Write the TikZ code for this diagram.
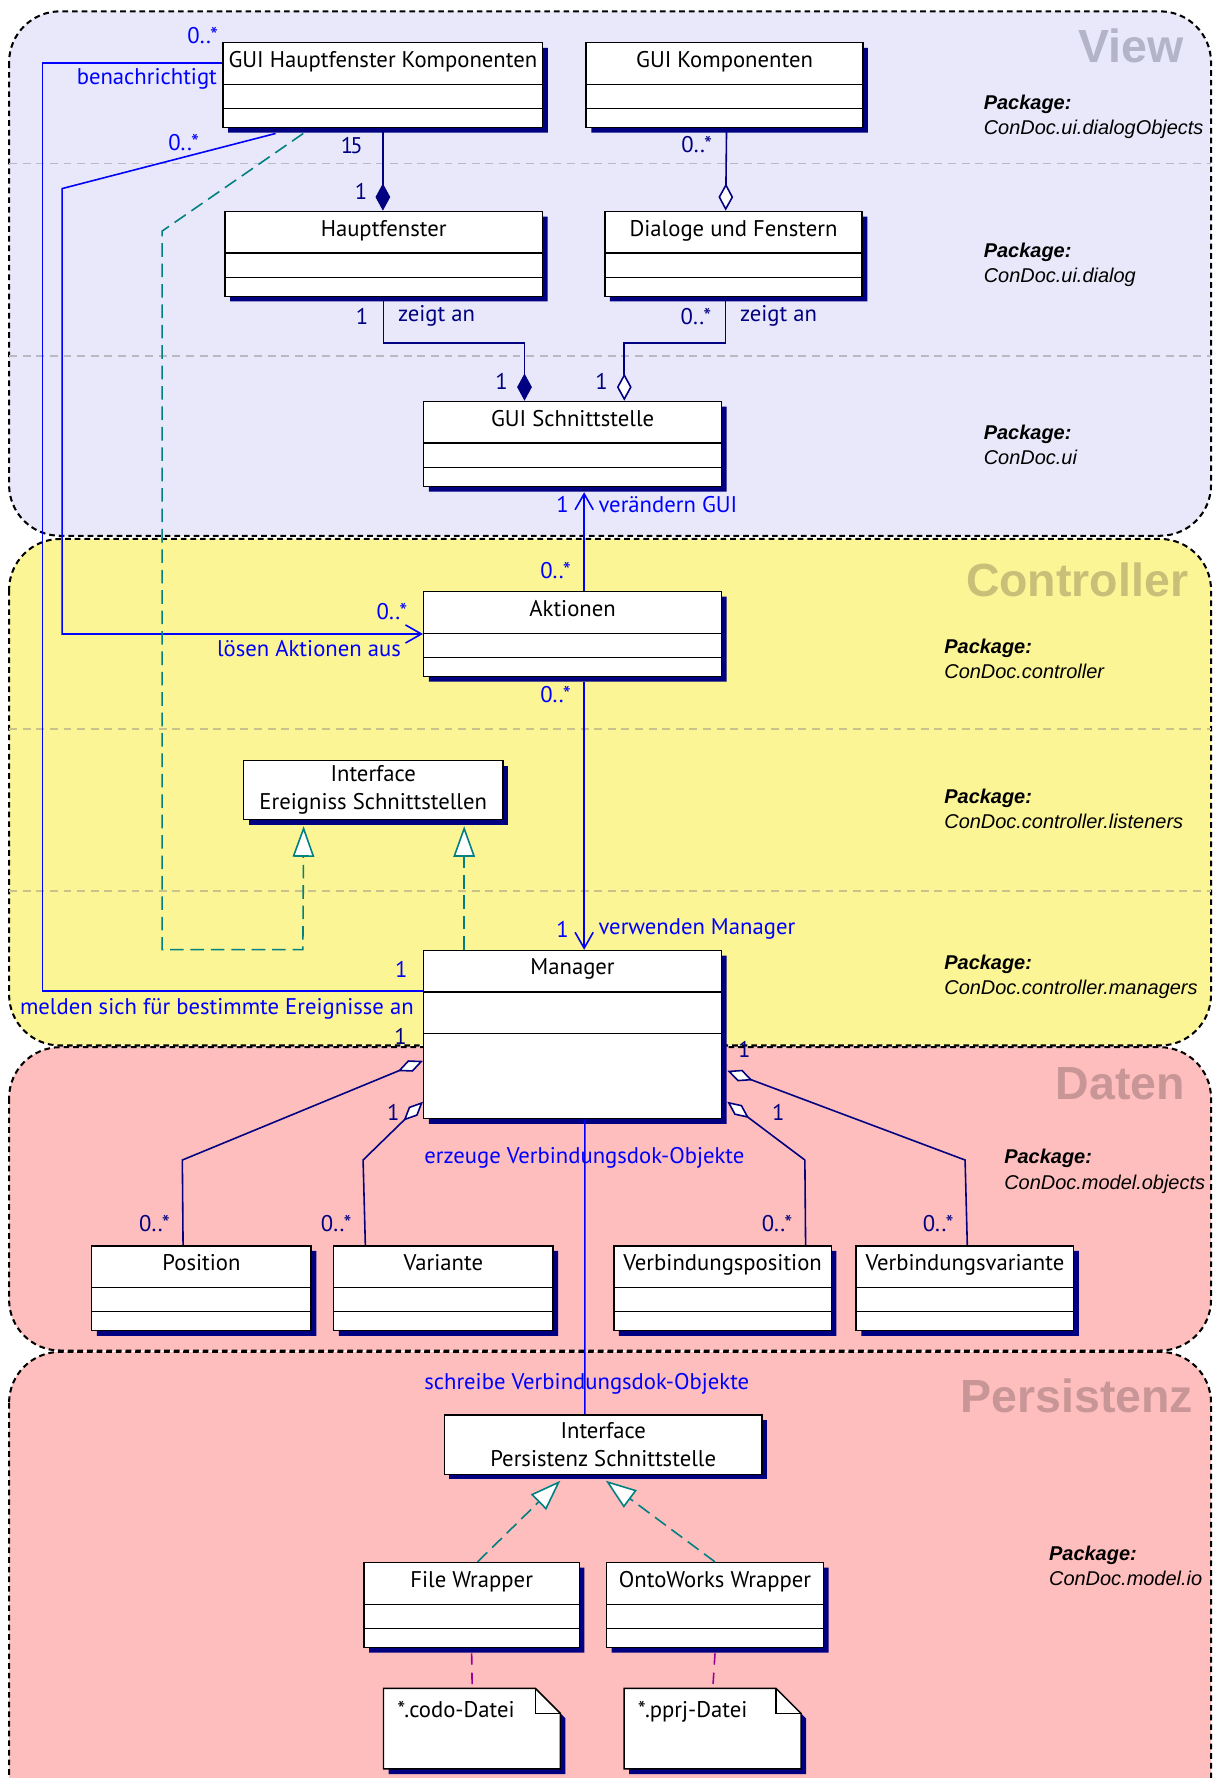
\documentclass[tikz,border=0pt]{standalone}
\usepackage{fontspec}
\setmainfont{PT Sans}
\newfontfamily\arialfont{Liberation Sans}
\usetikzlibrary{shapes.multipart, shadows, arrows.meta, positioning}

\definecolor{viewbg}{RGB}{232,232,250}
\definecolor{ctrlbg}{RGB}{251,245,150}
\definecolor{datenbg}{RGB}{255,190,190}
\definecolor{viewgrau}{RGB}{180,180,200}
\definecolor{ctrlgrau}{RGB}{200,192,120}
\definecolor{datengrau}{RGB}{200,150,150}
\definecolor{viewlinie}{RGB}{185,185,195}
\definecolor{ctrllinie}{RGB}{200,195,140}
\definecolor{navy}{RGB}{0,0,128}
\definecolor{hellblau}{RGB}{0,0,255}
\definecolor{petrol}{RGB}{0,128,128}
\definecolor{lila}{RGB}{153,0,153}

\newcommand{\boxfont}{\fontsize{20}{25}\selectfont}
% class with name, attribute and operation compartment
\newcommand{\kls}[1]{\rule[-14pt]{0pt}{35.5pt}#1\nodepart{second}\rule{0pt}{20pt}\nodepart{third}\rule{0pt}{15.5pt}}
% note with folded corner: name, x, y, text
\newcommand{\notiz}[4]{%
  \fill[navy] ({#2+4.5},{#3+4.5}) -- ++(134,0) -- ++(22,22) -- ++(0,49) -- ++(-156,0) -- cycle;
  \draw[line width=1.3pt, fill=white] (#2,#3) -- ++(134,0) -- ++(22,22) -- ++(0,49) -- ++(-156,0) -- cycle;
  \draw[line width=1.3pt] ({#2+134},#3) |- ++(22,22);
  \node[notiz] (#1) at (#2,#3) {#4};
}

\tikzset{
    x=1pt, y=-1pt, % coordinates in points, y runs downwards
    schicht/.style={line width=1.8pt, dash pattern=on 5pt off 3.5pt, rounded corners=45pt}, % one layer of the architecture
    trenner/.style={line width=1.4pt, dash pattern=on 7pt off 5pt}, % border between two packages
    titel/.style={font=\arialfont\bfseries\fontsize{41}{41}\selectfont, anchor=north east, inner sep=0pt},
    paket/.style={font=\arialfont\itshape\fontsize{17.6}{22.3}\selectfont, anchor=north west, align=left, inner sep=0pt},
    klasse/.style={rectangle split, rectangle split parts=3, draw, fill=white, line width=1.3pt,
        inner xsep=2pt, inner ysep=0pt, anchor=north west, font=\boxfont,
        drop shadow={shadow xshift=4.5pt, shadow yshift=-4.5pt, fill=navy, opacity=1}},
    iface/.style={draw, fill=white, line width=1.3pt, anchor=north west, align=center, font=\boxfont,
        drop shadow={shadow xshift=4.5pt, shadow yshift=-4.5pt, fill=navy, opacity=1}},
    notiz/.style={anchor=north west, inner xsep=12pt, inner ysep=0pt, text width=132pt,
        text height=25.7pt, text depth=45.3pt, align=left, font=\boxfont},
    mult/.style={font=\boxfont, text=navy, inner sep=1pt}, % multiplicities inside a layer
    hinweis/.style={font=\boxfont, text=hellblau, inner sep=1pt}, % labels of links across layers
    assoz/.style={draw=navy, line width=1.4pt},
    ruf/.style={draw=hellblau, line width=1.4pt},
    realis/.style={draw=petrol, line width=1.4pt, dash pattern=on 12pt off 6pt,
        arrows={-Triangle[fill=white, length=27pt, width=19pt]}},
    abh/.style={draw=lila, line width=1.4pt, dash pattern=on 10pt off 7pt},
    comp/.style={arrows={-Diamond[fill=navy, length=24pt, width=13pt]}},
    agg/.style={arrows={-Diamond[fill=white, length=24pt, width=13pt]}},
    aggstart/.style={arrows={Diamond[fill=white, length=24pt, width=11pt]-}},
    nav/.style={arrows={-Straight Barb[length=14pt, width=16pt]}},
}

\begin{document}
\begin{tikzpicture}
\clip (0,0) rectangle (1076,1568);
\fill[white] (0,0) rectangle (1076,1568);

% layers
\draw[schicht, fill=viewbg] (8,10) rectangle (1068,472.5);
\draw[schicht, fill=ctrlbg] (8,475.3) rectangle (1068,922);
\draw[schicht, fill=datenbg] (8,923.5) rectangle (1068,1191);
\draw[schicht, fill=datenbg] (8,1192.2) rectangle (1068,1640);
\draw[trenner, viewlinie] (8,144.3) -- (1068,144.3) (8,314) -- (1068,314);
\draw[trenner, ctrllinie] (8,642.9) -- (1068,642.9) (8,785.6) -- (1068,785.6);

\node[titel, text=viewgrau] (tview) at (1044,25) {View};
\node[titel, text=ctrlgrau] (tctrl) at (1048,495.7) {Controller};
\node[titel, text=datengrau] (tdaten) at (1045.3,940.8) {Daten};
\node[titel, text=datengrau] (tpers) at (1052.4,1215.7) {Persistenz};

\node[paket] (p1) at (867.4,83.2) {\textbf{Package:}\\ConDoc.ui.dialogObjects};
\node[paket] (p2) at (867.4,213.9) {\textbf{Package:}\\ConDoc.ui.dialog};
\node[paket] (p3) at (867.4,374.6) {\textbf{Package:}\\ConDoc.ui};
\node[paket] (p4) at (832.6,563.3) {\textbf{Package:}\\ConDoc.controller};
\node[paket] (p5) at (832.6,695.6) {\textbf{Package:}\\ConDoc.controller.listeners};
\node[paket] (p6) at (832.6,842.1) {\textbf{Package:}\\ConDoc.controller.managers};
\node[paket] (p7) at (885.5,1013.4) {\textbf{Package:}\\ConDoc.model.objects};
\node[paket] (p8) at (925,1363) {\textbf{Package:}\\ConDoc.model.io};

% classes
\node[klasse, minimum width=282pt] (hk) at (196,37) {\kls{GUI Hauptfenster Komponenten}};
\node[klasse, minimum width=244pt, right=37pt of hk.north east, anchor=north west] (gk) {\kls{GUI Komponenten}};
\node[klasse, minimum width=280pt] (hf) at (197.7,185.8) {\kls{Hauptfenster}};
\node[klasse, minimum width=227pt] (df) at (532.7,185.8) {\kls{Dialoge und Fenstern}};
\node[klasse, minimum width=262.6pt] (gs) at (373,353.4) {\kls{GUI Schnittstelle}};
\node[klasse, minimum width=262.6pt] (ak) at (373,521) {\kls{Aktionen}};
\node[iface, minimum width=228.8pt, minimum height=52pt] (es) at (214.1,670) {Interface\\Ereigniss Schnittstellen};
\node[klasse, minimum width=262.6pt] (mg) at (373,837.6)
    {\rule[-14.7pt]{0pt}{35.2pt}Manager\nodepart{second}\rule{0pt}{35.6pt}\nodepart{third}\rule{0pt}{73.6pt}};
\node[klasse, minimum width=193.6pt] (pos) at (80.2,1098) {\kls{Position}};
\node[klasse, minimum width=193.5pt, right=18.5pt of pos.north east, anchor=north west] (var) {\kls{Variante}};
\node[klasse, minimum width=191.8pt] (vpos) at (540.7,1098) {\kls{Verbindungsposition}};
\node[klasse, minimum width=191.8pt, right=20.6pt of vpos.north east, anchor=north west] (vvar) {\kls{Verbindungsvariante}};
\node[iface, minimum width=280.2pt, minimum height=52.4pt] (ps) at (391.2,1247.1) {Interface\\Persistenz Schnittstelle};
\node[klasse, minimum width=190pt] (fw) at (320.3,1377.4) {\kls{File Wrapper}};
\node[klasse, minimum width=191.4pt, right=22.6pt of fw.north east, anchor=north west] (ow) {\kls{OntoWorks Wrapper}};
\notiz{codo}{338.2}{1489}{*.codo-Datei}
\notiz{pprj}{550.4}{1489}{*.pprj-Datei}

% view
\draw[assoz, comp] (hk.south) -- (hk.south |- hf.north)
    node[mult, pos=0.21, left=16pt] {1\kern-2.5pt5} node[mult, pos=0.77, left=12pt] {1};
\draw[assoz, agg] ([xshift=1.8pt]gk.south) -- ([xshift=-6.9pt]df.north)
    node[mult, pos=0.2, left=11pt] {0..*};
\draw[assoz, comp] (hf.south) -- ++(0,40.3)
    node[mult, pos=0.42, left=12pt] {1} node[mult, pos=0.42, right=11pt] {zeigt an}
    -| ([xshift=-42.4pt]gs.north) node[mult, pos=0.83, left=13pt] {1};
\draw[assoz, agg] ([xshift=-6.9pt]df.south) -- ++(0,40.3)
    node[mult, pos=0.42, left=11pt] {0..*} node[mult, pos=0.42, right=11pt] {zeigt an}
    -| ([xshift=45.6pt]gs.north) node[mult, pos=0.83, left=13pt] {1};

% links between the layers
\draw[ruf, nav] ([xshift=10.2pt]ak.north) -- ([xshift=10.2pt, yshift=-4.5pt]gs.south)
    node[hinweis, pos=0.88, left=12pt] {1} node[hinweis, pos=0.88, right=11pt] {verändern GUI}
    node[hinweis, pos=0.21, left=10pt] {0..*};
\draw[ruf, nav] ([xshift=10.2pt, yshift=-4.5pt]ak.south) -- ([xshift=10.2pt]mg.north)
    node[hinweis, pos=0.044, left=10pt] {0..*} node[hinweis, pos=0.924, left=12pt] {1}
    node[hinweis, pos=0.924, right=11pt] {verwenden Manager};
\draw[ruf, nav] ([xshift=-94.6pt, yshift=-4.5pt]hk.south) -- node[hinweis, pos=0.35, anchor=south east] {0..*} (54.8,166.3)
    |- (ak.west) node[hinweis, pos=0.981, anchor=south east, yshift=11pt] {0..*}
    node[hinweis, pos=0.972, anchor=north east, yshift=-4pt] {lösen Aktionen aus};
\draw[ruf] ([yshift=-18.5pt]hk.north west)
    node[hinweis, anchor=south east, xshift=-2pt, yshift=15pt] {0..*}
    node[hinweis, anchor=north east, xshift=-3pt, yshift=-3.5pt] {benachrichtigt}
    -| (37.3,700) |- ([yshift=-36.5pt]mg.north west)
    node[hinweis, anchor=south east, xshift=-12pt, yshift=10pt] {1}
    node[hinweis, anchor=north east, xshift=-6.5pt, yshift=-5pt] {melden sich für bestimmte Ereignisse an};
\draw[realis] ([xshift=-70.2pt, yshift=-4.5pt]hk.south) -- (143,203.8) |- (267.1,837.5)
    -- ([xshift=-61.4pt, yshift=-5.3pt]es.south);
\draw[realis] ([xshift=-95.6pt]mg.north) -- ([xshift=80.2pt, yshift=-5.3pt]es.south);

% data objects
\draw[assoz, aggstart] ([yshift=-97.9pt]mg.north west)
    node[mult, anchor=south east, xshift=-12.5pt, yshift=13pt] {1}
    -- (160.8,1023) -- ([xshift=-16.2pt]pos.north)
    node[mult, anchor=south east, xshift=-10pt, yshift=10pt] {0..*};
\draw[assoz, aggstart] ([yshift=-134pt]mg.north west)
    node[mult, anchor=east, xshift=-19pt, yshift=-9pt] {1}
    -- (320.2,1023) -- ([xshift=-68.8pt]var.north)
    node[mult, anchor=south east, xshift=-10.5pt, yshift=10pt] {0..*};
\draw[assoz, aggstart] ([xshift=4.5pt, yshift=-134pt]mg.north east)
    node[mult, xshift=45pt, yshift=-9pt] {1}
    -- (709.8,1023) -- ([xshift=73.2pt]vpos.north)
    node[mult, anchor=south east, xshift=-10pt, yshift=10pt] {0..*};
\draw[assoz, aggstart] ([xshift=4.5pt, yshift=-106.7pt]mg.north east)
    node[mult, xshift=15pt, yshift=18.5pt] {1}
    -- (851.1,1023) -- ([xshift=2.1pt]vvar.north)
    node[mult, anchor=south east, xshift=-10.5pt, yshift=10pt] {0..*};
\node[hinweis, anchor=west] (erzeugen) at ([yshift=-34pt]mg.south west) {erzeuge Verbindungsdok-Objekte};

% persistence
\draw[ruf] ([xshift=10.8pt]mg.south) -- ([xshift=-16.2pt]ps.north);
\node[hinweis, anchor=west] (schreiben) at ([xshift=-18.2pt, yshift=27pt]ps.north west) {schreibe Verbindungsdok-Objekte};
\draw[realis] ([xshift=5.2pt]fw.north) -- ([xshift=-37.8pt, yshift=-5pt]ps.south);
\draw[realis] (ow.north) -- ([xshift=2.3pt, yshift=-5pt]ps.south);
\draw[abh] ([yshift=-4.5pt]fw.south) -- (codo.north);
\draw[abh] ([yshift=-4.5pt]ow.south) -- (pprj.north);
\end{tikzpicture}
\end{document}
